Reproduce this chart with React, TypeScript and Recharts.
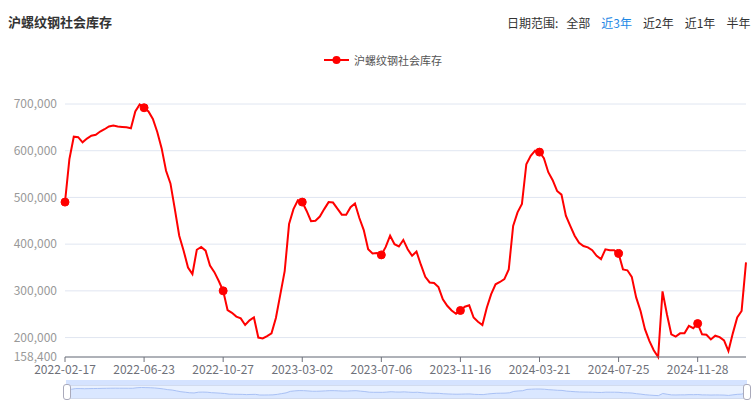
import React from 'react';
import { LineChart, Line, XAxis, YAxis, CartesianGrid, AreaChart, Area } from 'recharts';

const title = '沪螺纹钢社会库存';
const seriesName = '沪螺纹钢社会库存';
const rangeLabel = '日期范围:';
const rangeOptions = ['全部', '近3年', '近2年', '近1年', '半年'];
const activeRange = '近3年';

const dates = [
  '2022-02-17', '2022-02-24', '2022-03-03', '2022-03-10', '2022-03-17', '2022-03-24', '2022-03-31', '2022-04-07',
  '2022-04-14', '2022-04-21', '2022-04-28', '2022-05-05', '2022-05-12', '2022-05-19', '2022-05-26', '2022-06-02',
  '2022-06-09', '2022-06-16', '2022-06-23', '2022-06-30', '2022-07-07', '2022-07-14', '2022-07-21', '2022-07-28',
  '2022-08-04', '2022-08-11', '2022-08-18', '2022-08-25', '2022-09-01', '2022-09-08', '2022-09-15', '2022-09-22',
  '2022-09-29', '2022-10-06', '2022-10-13', '2022-10-20', '2022-10-27', '2022-11-03', '2022-11-10', '2022-11-17',
  '2022-11-24', '2022-12-01', '2022-12-08', '2022-12-15', '2022-12-22', '2022-12-29',
  '2023-01-05', '2023-01-12', '2023-01-19', '2023-01-26', '2023-02-02', '2023-02-09', '2023-02-16', '2023-02-23',
  '2023-03-02', '2023-03-09', '2023-03-16', '2023-03-23', '2023-03-30', '2023-04-06', '2023-04-13', '2023-04-20',
  '2023-04-27', '2023-05-04', '2023-05-11', '2023-05-18', '2023-05-25', '2023-06-01', '2023-06-08', '2023-06-15',
  '2023-06-22', '2023-06-29', '2023-07-06', '2023-07-13', '2023-07-20', '2023-07-27', '2023-08-03', '2023-08-10',
  '2023-08-17', '2023-08-24', '2023-08-31', '2023-09-07', '2023-09-14', '2023-09-21', '2023-09-28',
  '2023-10-12', '2023-10-19', '2023-10-26', '2023-11-02', '2023-11-09', '2023-11-16', '2023-11-23', '2023-11-30',
  '2023-12-07', '2023-12-14', '2023-12-21', '2023-12-28',
  '2024-01-04', '2024-01-11', '2024-01-18', '2024-01-25', '2024-02-01', '2024-02-08', '2024-02-15', '2024-02-22',
  '2024-02-29', '2024-03-07', '2024-03-14', '2024-03-21', '2024-03-28', '2024-04-04', '2024-04-11', '2024-04-18',
  '2024-04-25', '2024-05-02', '2024-05-09', '2024-05-16', '2024-05-23', '2024-05-30', '2024-06-06', '2024-06-13',
  '2024-06-20', '2024-06-27', '2024-07-04', '2024-07-11', '2024-07-18', '2024-07-25', '2024-08-01', '2024-08-08',
  '2024-08-15', '2024-08-22', '2024-08-29', '2024-09-05', '2024-09-12', '2024-09-19', '2024-09-26', '2024-10-03',
  '2024-10-10', '2024-10-17', '2024-10-24', '2024-10-31', '2024-11-07', '2024-11-14', '2024-11-21', '2024-11-28',
  '2024-12-05', '2024-12-12', '2024-12-19', '2024-12-26',
  '2025-01-02', '2025-01-09', '2025-01-16', '2025-01-23', '2025-01-30', '2025-02-06', '2025-02-13',
];

const inventory = [
  490000, 582000, 630000, 629000, 618000, 626000, 632000, 634000, 641000, 646000,
  652000, 654000, 652000, 651000, 650000, 648000, 684000, 699000, 692000, 684000,
  668000, 640000, 605000, 557000, 530000, 475000, 418000, 386000, 350000, 336000,
  388000, 394000, 386000, 354000, 340000, 321000, 300000, 259000, 253000, 245000,
  241000, 227000, 237000, 243000, 200000, 198000, 203000, 209000, 242000, 292000,
  342000, 443000, 475000, 494000, 490000, 471000, 449000, 450000, 459000, 475000,
  490000, 489000, 476000, 463000, 463000, 479000, 487000, 456000, 430000, 389000,
  380000, 381000, 377000, 394000, 418000, 400000, 395000, 409000, 389000, 375000,
  384000, 356000, 330000, 318000, 317000, 308000, 282000, 268000, 258000, 251000,
  258000, 266000, 269000, 243000, 234000, 227000, 264000, 293000, 314000, 319000,
  325000, 346000, 439000, 468000, 486000, 571000, 589000, 600000, 597000, 584000,
  554000, 537000, 514000, 506000, 461000, 439000, 418000, 403000, 396000, 393000,
  387000, 375000, 368000, 389000, 387000, 387000, 380000, 346000, 344000, 330000,
  286000, 257000, 218000, 193000, 173000, 158400, 299000, 250000, 207000, 202000,
  209000, 209000, 225000, 220000, 230000, 207000, 206000, 196000, 204000, 201000,
  194000, 171000, 209000, 243000, 257000, 361000,
];

const xTickLabels = [
  '2022-02-17', '2022-06-23', '2022-10-27', '2023-03-02', '2023-07-06',
  '2023-11-16', '2024-03-21', '2024-07-25', '2024-11-28',
];
const yTickValues = [158400, 200000, 300000, 400000, 500000, 600000, 700000];

const data = dates.map((d, i) => ({ date: d, value: inventory[i] }));

const FONT = "'Noto Sans CJK SC', 'Noto Sans', sans-serif";

const renderDot = (props: any) => {
  const { cx, cy, payload, index } = props;
  if (payload && xTickLabels.includes(payload.date)) {
    return <circle key={`d-${index}`} cx={cx} cy={cy} r={4} fill="#ff0000" stroke="#ff0000" strokeWidth={1} />;
  }
  return <g key={`d-${index}`} />;
};

export default function App() {
  return (
    <div style={{ position: 'absolute', left: 0, top: 0, width: 755, height: 405, background: '#fff', fontFamily: FONT, overflow: 'hidden' }}>
      <div style={{ position: 'absolute', left: 8, top: 13, fontSize: 13, fontWeight: 'bold', color: '#333', lineHeight: '18px' }}>{title}</div>
      <div style={{ position: 'absolute', left: 507, top: 14, fontSize: 12, color: '#333', lineHeight: '17px', display: 'flex', whiteSpace: 'nowrap' }}>
        <span style={{ marginRight: 8 }}>{rangeLabel}</span>
        {rangeOptions.map((o, i) => (
          <span key={o} style={{ marginRight: i < rangeOptions.length - 1 ? 11 : 0, color: o === activeRange ? '#1e88e5' : '#333' }}>{o}</span>
        ))}
      </div>
      <div style={{ position: 'absolute', left: 324, top: 51, height: 18, display: 'flex', alignItems: 'center', fontSize: 11, color: '#555', whiteSpace: 'nowrap' }}>
        <svg width={25} height={10} style={{ marginRight: 5 }}>
          <line x1={0} y1={5} x2={25} y2={5} stroke="#ff0000" strokeWidth={2} />
          <circle cx={12.5} cy={5} r={4} fill="#ff0000" />
        </svg>
        <span>{seriesName}</span>
      </div>
      <div style={{ position: 'absolute', left: 0, top: 0 }}>
        <LineChart width={755} height={405} data={data} margin={{ top: 104, right: 9, bottom: 18, left: 5 }}>
          <CartesianGrid vertical={false} stroke="#E0E6F1" />
          <XAxis
            dataKey="date"
            ticks={xTickLabels}
            interval={0}
            height={30}
            tickSize={5}
            tickMargin={3}
            axisLine={{ stroke: '#6E7079' }}
            tickLine={{ stroke: '#6E7079' }}
            tick={{ fill: '#6E7079', fontSize: 12 }}
          />
          <YAxis
            type="number"
            domain={[158400, 700000]}
            ticks={yTickValues}
            interval={0}
            width={60}
            axisLine={false}
            tickLine={false}
            tick={{ fill: '#999', fontSize: 12 }}
            tickFormatter={(v: number) => v.toLocaleString('en-US')}
          />
          <Line
            type="linear"
            dataKey="value"
            name={seriesName}
            stroke="#ff0000"
            strokeWidth={2}
            dot={renderDot}
            activeDot={false}
            isAnimationActive={false}
          />
        </LineChart>
      </div>
      <div style={{ position: 'absolute', left: 66, top: 380, width: 681, height: 5, background: 'rgba(135,175,255,0.35)' }} />
      <div style={{ position: 'absolute', left: 66, top: 385, width: 679, height: 12, border: '1px solid #d2dbee', background: 'rgba(135,175,255,0.18)' }}>
        <AreaChart width={679} height={12} data={data} margin={{ top: 0, right: 0, bottom: 0, left: 0 }}>
          <XAxis dataKey="date" hide />
          <YAxis hide domain={[0, 800000]} />
          <Area type="linear" dataKey="value" stroke="#a9c1f5" strokeWidth={1} fill="rgba(135,175,255,0.25)" isAnimationActive={false} dot={false} />
        </AreaChart>
      </div>
      <div style={{ position: 'absolute', left: 63, top: 384, width: 6, height: 14, borderRadius: 3, background: '#fff', border: '1px solid #aab' }} />
      <div style={{ position: 'absolute', left: 743, top: 384, width: 6, height: 14, borderRadius: 3, background: '#fff', border: '1px solid #aab' }} />
    </div>
  );
}
